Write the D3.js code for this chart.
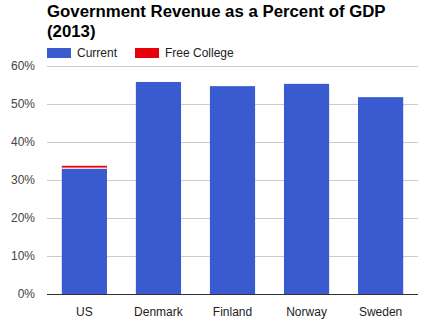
<!DOCTYPE html>
<html><head><meta charset="utf-8">
<script src="https://cdn.jsdelivr.net/npm/d3@7"></script>
<style>body{margin:0;background:#fff}svg{display:block;font-family:"Liberation Sans",Arial,sans-serif}</style>
</head><body><svg id="c" width="429" height="326"></svg>
<script>
const categories = ["US","Denmark","Finland","Norway","Sweden"];
const current = [33.0, 55.8, 54.7, 55.3, 51.8];
const freeCollege = [0.6, 0, 0, 0, 0];
const yTicks = [0,10,20,30,40,50,60];
const seriesNames = ["Current","Free College"];
const colors = ["#3a5bcf","#e8000b"];

const svg = d3.select("#c");
const m = {l:47, r:11, t:66, b:32};
const W = 429, H = 326;
const x = d3.scaleBand().domain(categories).range([m.l, W-m.r]).paddingInner(0.39).paddingOuter(0.2);
const y = d3.scaleLinear().domain([0,60]).range([H-m.b, m.t]);

// title
svg.append("text").attr("x",47).attr("y",17).attr("font-size",16.8).attr("font-weight","bold").attr("fill","#000").text("Government Revenue as a Percent of GDP");
svg.append("text").attr("x",47).attr("y",37).attr("font-size",16.8).attr("font-weight","bold").attr("fill","#000").text("(2013)");

// legend
const lg = svg.append("g");
const lx = [47,135];
seriesNames.forEach((n,i)=>{
  lg.append("rect").attr("x",lx[i]).attr("y",48).attr("width",24).attr("height",10).attr("fill",colors[i]);
  lg.append("text").attr("x",lx[i]+30).attr("y",57).attr("font-size",12).attr("fill","#222").text(n);
});

// grid
const ya = svg.append("g").attr("transform",`translate(${m.l},0)`)
  .call(d3.axisLeft(y).tickValues(yTicks).tickFormat(d=>d+"%").tickSize(-(W-m.l-m.r)).tickPadding(12));
ya.select(".domain").remove();
ya.selectAll(".tick line").attr("stroke","#ccc");
ya.selectAll(".tick text").attr("font-size",12).attr("fill","#444").attr("font-family","Liberation Sans, Arial, sans-serif");

// bars
const stack = categories.map((c,i)=>({c, cur:current[i], fc:freeCollege[i]}));
svg.append("g").selectAll("rect").data(stack).join("rect")
  .attr("x",d=>x(d.c)).attr("width",x.bandwidth())
  .attr("y",d=>y(d.cur)).attr("height",d=>y(0)-y(d.cur)).attr("fill",colors[0]);
svg.append("g").selectAll("rect").data(stack.filter(d=>d.fc>0)).join("rect")
  .attr("x",d=>x(d.c)).attr("width",x.bandwidth())
  .attr("y",d=>y(d.cur+d.fc)-0.5).attr("height",d=>y(d.cur)-y(d.cur+d.fc)).attr("fill",colors[1]);
svg.append("g").selectAll("line").data(stack.filter(d=>d.fc>0)).join("line")
  .attr("x1",d=>x(d.c)).attr("x2",d=>x(d.c)+x.bandwidth())
  .attr("y1",d=>y(d.cur)-0.5).attr("y2",d=>y(d.cur)-0.5).attr("stroke","#fff").attr("stroke-width",1);

// x axis
const xa = svg.append("g").attr("transform",`translate(0,${y(0)})`).call(d3.axisBottom(x).tickSize(0).tickPadding(13));
xa.select(".domain").attr("stroke","#333").attr("d",`M${m.l},0.5H${W-m.r}`);
xa.selectAll(".tick text").attr("font-size",12).attr("fill","#222").attr("font-family","Liberation Sans, Arial, sans-serif");
</script></body></html>
